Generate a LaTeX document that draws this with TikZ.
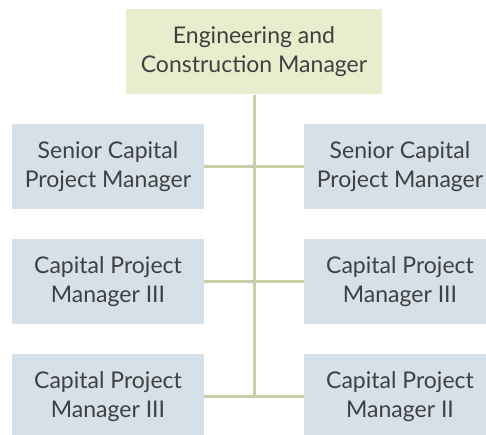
\documentclass[tikz,border=0pt]{standalone}
\usepackage{fontspec}
\setmainfont{Lato}
\definecolor{topfill}{HTML}{EAECCE}
\definecolor{sidefill}{HTML}{D5E0E9}
\definecolor{linec}{HTML}{C5D0A8}
\definecolor{txt}{HTML}{404040}
\tikzset{
  boxbase/.style={inner sep=0pt, align=center, text=txt,
    font=\fontsize{23}{29.5}\selectfont},
  topbox/.style={boxbase, fill=topfill, minimum width=256pt, minimum height=85.5pt},
  sidebox/.style={boxbase, fill=sidefill, minimum width=192pt, minimum height=85pt},
  conn/.style={draw=linec, line width=3pt}
}
\begin{document}
\begin{tikzpicture}[x=1pt,y=-1pt]
\useasboundingbox (0,0) rectangle (486,435);
\clip (0,0) rectangle (486,435);
\node[topbox]  (top) at (254,51.75) {Engineering and\\Construction Manager};
\node[sidebox] (l1) at (108,166.5) {Senior Capital\\Project Manager};
\node[sidebox] (l2) at (108,281.5) {Capital Project\\Manager III};
\node[sidebox] (l3) at (108,396.5) {Capital Project\\Manager III};
\node[sidebox] (r1) at (400,166.5) {Senior Capital\\Project Manager};
\node[sidebox] (r2) at (400,281.5) {Capital Project\\Manager III};
\node[sidebox] (r3) at (400,396.5) {Capital Project\\Manager II};
\draw[conn] (top.south) -- (top.south |- l3.east);
\draw[conn] (l1.east) -- (r1.west);
\draw[conn] (l2.east) -- (r2.west);
\draw[conn] (l3.east) -- (r3.west);
\end{tikzpicture}
\end{document}
